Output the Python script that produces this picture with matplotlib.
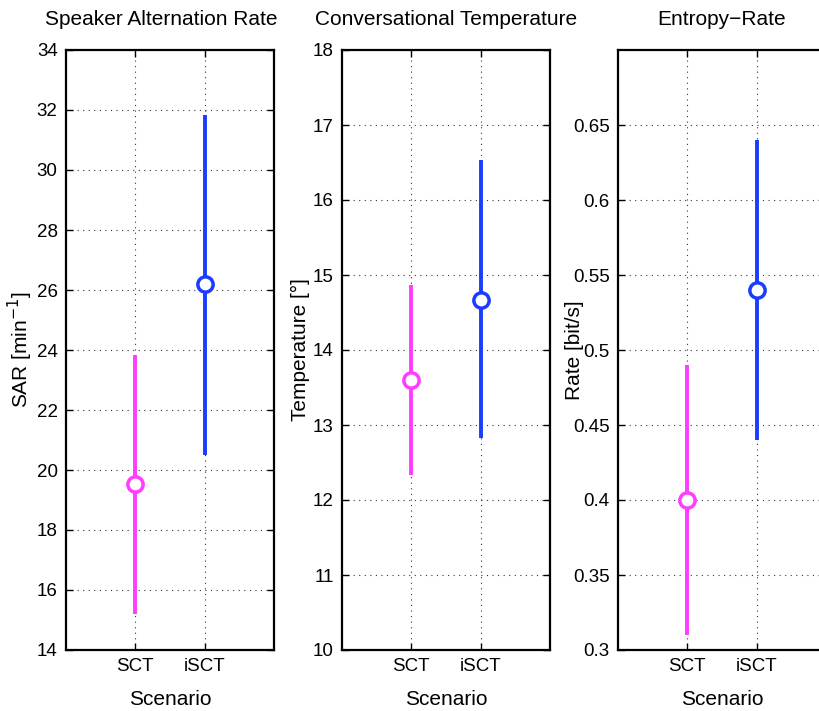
import matplotlib
matplotlib.use("Agg")
import matplotlib.pyplot as plt
import numpy as np

plt.rcParams['font.family'] = ['Liberation Sans', 'DejaVu Sans']
plt.rcParams['font.size'] = 13.5

scenarios = ["SCT", "iSCT"]
colors = ["#ff3cff", "#1a3cff"]

titles = ["Speaker Alternation Rate", "Conversational Temperature", "Entropy\u2212Rate"]
ylabels = ["SAR [min$^{-1}$]", "Temperature [\u00b0]", "Rate [bit/s]"]

# centre, lower, upper for SCT and iSCT
sar_mid = [19.55, 26.2]
sar_lo = [15.2, 20.5]
sar_hi = [23.85, 31.85]

temp_mid = [13.6, 14.67]
temp_lo = [12.33, 12.83]
temp_hi = [14.87, 16.53]

rate_mid = [0.40, 0.54]
rate_lo = [0.31, 0.44]
rate_hi = [0.49, 0.64]

ylims = [(14, 34), (10, 18), (0.3, 0.7)]
yticks = [np.arange(14, 34.1, 2), np.arange(10, 18.1, 1), np.arange(0.3, 0.651, 0.05)]
yticklabels = [
    [str(int(v)) for v in np.arange(14, 34.1, 2)],
    [str(int(v)) for v in np.arange(10, 18.1, 1)],
    ["0.3", "0.35", "0.4", "0.45", "0.5", "0.55", "0.6", "0.65"],
]

data = [(sar_mid, sar_lo, sar_hi), (temp_mid, temp_lo, temp_hi), (rate_mid, rate_lo, rate_hi)]

W, H = 820, 711
fig = plt.figure(figsize=(W / 100, H / 100), dpi=100)

lefts = [66, 342, 618]
axw = 208
bottom = (H - 650) / H
height = 600 / H
title_x = [0.46, 0.5, 0.5]
ylab_x = [-0.148, -0.155, -0.163]

for k in range(3):
    ax = fig.add_axes([lefts[k] / W, bottom, axw / W, height])
    mid, lo, hi = data[k]
    xs = np.arange(1, len(scenarios) + 1)
    for i in range(len(scenarios)):
        ax.plot([xs[i], xs[i]], [lo[i], hi[i]], color=colors[i], lw=2.8, solid_capstyle='butt', zorder=3)
        ax.plot(xs[i], mid[i], 'o', mfc='white', mec=colors[i], mew=2.5, ms=11, zorder=4)
    ax.set_xlim(0, 3)
    ax.set_ylim(*ylims[k])
    ax.set_xticks(xs)
    ax.set_xticklabels(scenarios)
    ax.set_yticks(yticks[k])
    ax.set_yticklabels(yticklabels[k])
    ax.grid(True, linestyle=(0, (1, 4)), color='k', lw=0.8, alpha=0.8)
    ax.tick_params(direction='in', top=True, right=True, length=5, width=1, pad=6)
    for s in ax.spines.values():
        s.set_linewidth(1.6)
    ax.set_title(titles[k], pad=18, fontsize=15, x=title_x[k])
    ax.set_xlabel("Scenario", fontsize=15)
    ax.xaxis.set_label_coords(0.5, -0.066)
    ax.xaxis.label.set_va('top')
    ax.set_ylabel(ylabels[k], fontsize=15)
    ax.yaxis.set_label_coords(ylab_x[k], 0.5)

fig.savefig("out.png", dpi=100)
